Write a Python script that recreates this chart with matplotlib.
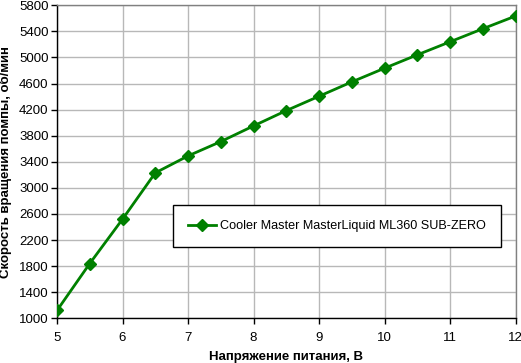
import matplotlib
matplotlib.use("Agg")
import matplotlib.pyplot as plt

voltage = [5, 5.5, 6, 6.5, 7, 7.5, 8, 8.5, 9, 9.5, 10, 10.5, 11, 11.5, 12]
rpm = [1120, 1840, 2520, 3230, 3490, 3710, 3950, 4185, 4405, 4625, 4835, 5040, 5240, 5440, 5635]
series_name = "Cooler Master MasterLiquid ML360 SUB-ZERO"
x_ticks = [5, 6, 7, 8, 9, 10, 11, 12]
y_ticks = [1000, 1400, 1800, 2200, 2600, 3000, 3400, 3800, 4200, 4600, 5000, 5400, 5800]
x_label = "Напряжение питания, В"
y_label = "Скорость вращения помпы, об/мин"

plt.rcParams['font.family'] = ['Liberation Sans', 'DejaVu Sans']

fig = plt.figure(figsize=(5.21, 3.63), dpi=100)
W, H = 521, 363
ax = fig.add_axes([57 / W, 1 - 318.3 / H, (515.5 - 57) / W, (318.3 - 5.3) / H])

ax.plot(voltage, rpm, color='#008000', lw=2, marker='D', markersize=6.5,
        markerfacecolor='#008000', markeredgecolor='#008000', label=series_name, zorder=3)

ax.set_xlim(5, 12)
ax.set_ylim(1000, 5800)
ax.set_xticks(x_ticks)
ax.set_yticks(y_ticks)
ax.grid(True, color='#b8b8b8', lw=1)
ax.set_axisbelow(True)

for s in ['top', 'right']:
    ax.spines[s].set_color('#808080')
    ax.spines[s].set_linewidth(1)
for s in ['left', 'bottom']:
    ax.spines[s].set_color('black')
    ax.spines[s].set_linewidth(1)

ax.tick_params(axis='both', direction='out', length=4, width=1, color='black', labelsize=9.5)
ax.tick_params(axis='x', pad=6)
ax.tick_params(axis='y', pad=2)

ax.set_xlabel(x_label, fontsize=9.5, fontweight='bold', labelpad=5)
ax.set_ylabel(y_label, fontsize=9.5, fontweight='bold', labelpad=5)

leg = ax.legend(loc='upper left', bbox_to_anchor=((173 - 57) / (515.5 - 57), 1 - (205 - 5.3) / (318.3 - 5.3)),
                fancybox=False, shadow=False, frameon=True, fontsize=9.1,
                borderpad=1.2, handlelength=2.2, handletextpad=0.3, borderaxespad=0)
leg.get_frame().set_edgecolor('black')
leg.get_frame().set_linewidth(1)
leg.get_frame().set_alpha(1)

fig.savefig('out.png', dpi=100)
